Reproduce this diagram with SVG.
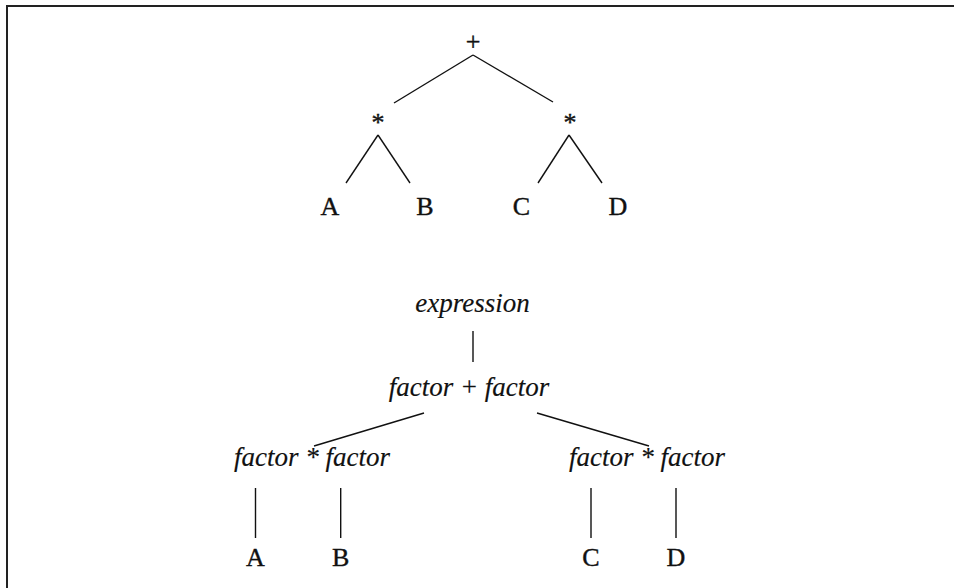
<svg xmlns="http://www.w3.org/2000/svg" width="954" height="588" viewBox="0 0 954 588">
<style>
.t{font-family:"Liberation Serif","Times New Roman",serif;font-size:26px;fill:#111;text-anchor:middle;stroke:#111;stroke-width:0.4}
.i{font-style:italic;font-size:27px;stroke-width:0.15}
.e line{stroke:#111;stroke-width:1.4;fill:none}
</style>
<rect width="954" height="588" fill="#fff"/>
<path d="M7,590 V6 H956" fill="none" stroke="#222" stroke-width="2"/>
<g class="e" id="connectors">
<line x1="473" y1="55" x2="394" y2="103"/>
<line x1="473" y1="55" x2="553" y2="102"/>
<line x1="378" y1="135" x2="346" y2="183"/>
<line x1="378" y1="135" x2="410" y2="183"/>
<line x1="569" y1="135" x2="538" y2="183"/>
<line x1="569" y1="135" x2="602" y2="183"/>
<line x1="473" y1="331" x2="473" y2="362"/>
<line x1="424" y1="413" x2="314" y2="446"/>
<line x1="537" y1="413" x2="649" y2="446"/>
<line x1="255.5" y1="488" x2="255.5" y2="538"/>
<line x1="340.7" y1="488" x2="340.7" y2="538"/>
<line x1="591" y1="488" x2="591" y2="538"/>
<line x1="676" y1="488" x2="676" y2="538"/>
</g>
<g id="plus"><text class="t" x="473" y="50">+</text></g>
<g id="star1"><text class="t" x="378" y="131">*</text></g>
<g id="star2"><text class="t" x="570" y="131">*</text></g>
<g id="a1"><text class="t" x="330" y="215">A</text></g>
<g id="b1"><text class="t" x="425" y="215">B</text></g>
<g id="c1"><text class="t" x="521.5" y="215">C</text></g>
<g id="d1"><text class="t" x="618" y="215">D</text></g>
<g id="expression"><text class="t i" x="472.5" y="312">expression</text></g>
<g id="sum"><text class="t i" x="469" y="396">factor + factor</text></g>
<g id="prod1"><text class="t i" x="312" y="466">factor * factor</text></g>
<g id="prod2"><text class="t i" x="647" y="466">factor * factor</text></g>
<g id="a2"><text class="t" x="255.5" y="566">A</text></g>
<g id="b2"><text class="t" x="340.7" y="566">B</text></g>
<g id="c2"><text class="t" x="591" y="566">C</text></g>
<g id="d2"><text class="t" x="676" y="566">D</text></g>
</svg>
